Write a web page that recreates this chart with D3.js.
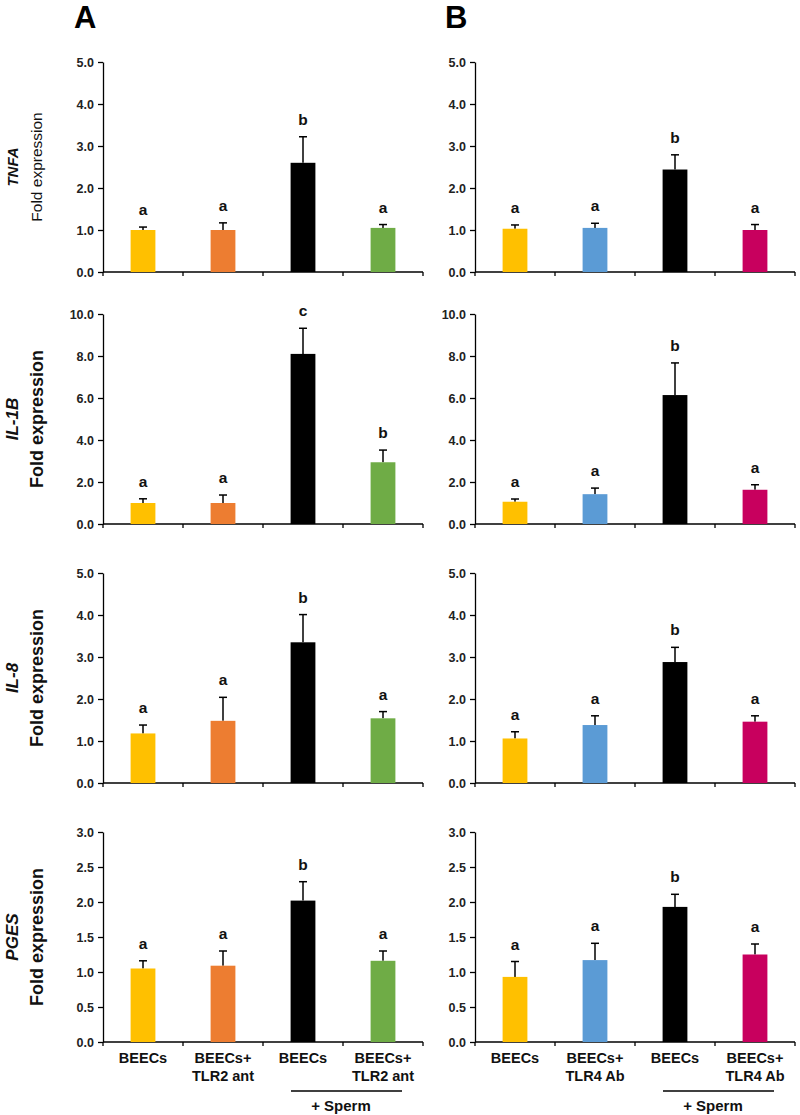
<!DOCTYPE html>
<html>
<head>
<meta charset="utf-8">
<script src="https://cdn.jsdelivr.net/npm/d3@7"></script>
<style>
  html, body { margin: 0; padding: 0; background: #fff; }
  svg { display: block; font-family: "Liberation Sans", Arial, sans-serif; }
</style>
</head>
<body>
<svg id="chart" width="800" height="1115"></svg>
<script>
// ---------- data ----------
const categoriesA = [["BEECs"], ["BEECs+", "TLR2 ant"], ["BEECs"], ["BEECs+", "TLR2 ant"]];
const categoriesB = [["BEECs"], ["BEECs+", "TLR4 Ab"], ["BEECs"], ["BEECs+", "TLR4 Ab"]];
const genes = ["TNFA", "IL-1B", "IL-8", "PGES"];
const yLabel = "Fold expression";
const groupLabel = "+ Sperm";
const panelLetters = ["A", "B"];

const colorsA = ["#FFC000", "#ED7D31", "#000000", "#6FAC46"];
const colorsB = ["#FFC000", "#5B9BD5", "#000000", "#C8005E"];

const yMax = [5, 10, 5, 3];
const yStep = [1, 2, 1, 0.5];

// means and (upper) error bars, panel A
const tnfaA = [1.00, 1.00, 2.60, 1.05];
const tnfaAErr = [0.07, 0.17, 0.62, 0.08];
const il1bA = [1.00, 1.00, 8.10, 2.94];
const il1bAErr = [0.20, 0.38, 1.22, 0.58];
const il8A = [1.18, 1.48, 3.35, 1.54];
const il8AErr = [0.20, 0.56, 0.66, 0.16];
const pgesA = [1.05, 1.09, 2.02, 1.16];
const pgesAErr = [0.11, 0.21, 0.27, 0.14];

// panel B
const tnfaB = [1.03, 1.05, 2.44, 1.00];
const tnfaBErr = [0.09, 0.11, 0.35, 0.13];
const il1bB = [1.06, 1.42, 6.14, 1.63];
const il1bBErr = [0.13, 0.29, 1.53, 0.24];
const il8B = [1.06, 1.38, 2.88, 1.46];
const il8BErr = [0.16, 0.22, 0.35, 0.14];
const pgesB = [0.93, 1.17, 1.93, 1.25];
const pgesBErr = [0.22, 0.24, 0.18, 0.15];

// significance letters
const lettersA = [["a","a","b","a"], ["a","a","c","b"], ["a","a","b","a"], ["a","a","b","a"]];
const lettersB = [["a","a","b","a"], ["a","a","b","a"], ["a","a","b","a"], ["a","a","b","a"]];

const valuesA = [tnfaA, il1bA, il8A, pgesA];
const errsA = [tnfaAErr, il1bAErr, il8AErr, pgesAErr];
const valuesB = [tnfaB, il1bB, il8B, pgesB];
const errsB = [tnfaBErr, il1bBErr, il8BErr, pgesBErr];

// ---------- layout ----------
const svg = d3.select("#chart");
const FONT = '"Liberation Sans", Arial, sans-serif';
const rowTops = [62, 314, 573, 832];
const rowH = 210;
const colLeft = [103, 475];
const plotW = 320;

const panels = [
  { left: colLeft[0], cats: categoriesA, colors: colorsA, values: valuesA, errs: errsA, letters: lettersA },
  { left: colLeft[1], cats: categoriesB, colors: colorsB, values: valuesB, errs: errsB, letters: lettersB }
];

// panel letters
svg.selectAll("text.panelLetter").data(panelLetters).enter().append("text")
  .attr("class", "panelLetter")
  .attr("x", (d, i) => [74, 445][i])
  .attr("y", 28)
  .attr("font-family", FONT).attr("font-weight", "bold").attr("font-size", 31)
  .text(d => d);

panels.forEach((p, pi) => {
  genes.forEach((gene, ri) => {
    const top = rowTops[ri];
    const g = svg.append("g").attr("transform", `translate(${p.left},${top})`);
    const x = d3.scaleBand().domain(d3.range(4)).range([0, plotW])
      .paddingInner(0.69).paddingOuter(0.345);
    const y = d3.scaleLinear().domain([0, yMax[ri]]).range([rowH, 0]);

    // y axis
    const ticks = d3.range(0, yMax[ri] + 1e-9, yStep[ri]);
    const ya = g.append("g").call(d3.axisLeft(y).tickValues(ticks).tickFormat(d3.format(".1f"))
      .tickSize(5).tickSizeOuter(0).tickPadding(4));
    ya.select(".domain").attr("stroke", "#000").attr("stroke-width", 1.3);
    ya.selectAll(".tick line").attr("stroke", "#000").attr("stroke-width", 1.3);
    ya.selectAll(".tick text").attr("font-family", FONT).attr("font-weight", "bold")
      .attr("font-size", 12.5).attr("fill", "#222");

    // x axis line with boundary ticks
    g.append("line").attr("x1", 0).attr("x2", plotW).attr("y1", rowH).attr("y2", rowH)
      .attr("stroke", "#000").attr("stroke-width", 1.3);
    const bounds = d3.range(5).map(i => x.range()[0] + i * x.step());
    g.selectAll("line.xt").data(bounds).enter().append("line").attr("class", "xt")
      .attr("x1", d => d).attr("x2", d => d).attr("y1", rowH).attr("y2", rowH + 4)
      .attr("stroke", "#000").attr("stroke-width", 1.3);

    const vals = p.values[ri], errs = p.errs[ri], lets = p.letters[ri];
    const data = vals.map((v, i) => ({ i, v, e: errs[i], l: lets[i] }));

    // error bars (drawn behind bars)
    const eb = g.selectAll("g.eb").data(data).enter().append("g").attr("class", "eb");
    eb.append("line")
      .attr("x1", d => x(d.i) + x.bandwidth() / 2).attr("x2", d => x(d.i) + x.bandwidth() / 2)
      .attr("y1", d => y(d.v)).attr("y2", d => y(d.v + d.e))
      .attr("stroke", "#000").attr("stroke-width", 1.5);
    eb.append("line")
      .attr("x1", d => x(d.i) + x.bandwidth() / 2 - 4).attr("x2", d => x(d.i) + x.bandwidth() / 2 + 4)
      .attr("y1", d => y(d.v + d.e)).attr("y2", d => y(d.v + d.e))
      .attr("stroke", "#000").attr("stroke-width", 1.5);

    // bars
    g.selectAll("rect.bar").data(data).enter().append("rect").attr("class", "bar")
      .attr("x", d => x(d.i)).attr("width", x.bandwidth())
      .attr("y", d => y(d.v)).attr("height", d => y(0) - y(d.v))
      .attr("fill", d => p.colors[d.i]);

    // letters
    g.selectAll("text.sig").data(data).enter().append("text").attr("class", "sig")
      .attr("x", d => x(d.i) + x.bandwidth() / 2)
      .attr("y", d => y(d.v + d.e) - 12)
      .attr("text-anchor", "middle")
      .attr("font-family", FONT).attr("font-weight", "bold").attr("font-size", 15.5).attr("fill", "#111")
      .text(d => d.l);

    // y labels (left column only)
    if (pi === 0) {
      const cy = top + rowH / 2;
      svg.append("text")
        .attr("transform", `translate(18,${cy}) rotate(-90)`)
        .attr("text-anchor", "middle")
        .attr("font-family", FONT).attr("font-weight", "bold").attr("font-style", "italic")
        .attr("font-size", ri === 0 ? 15 : 17).attr("fill", "#111")
        .text(gene);
      svg.append("text")
        .attr("transform", `translate(${ri === 0 ? 42 : 43},${cy}) rotate(-90)`)
        .attr("text-anchor", "middle")
        .attr("font-family", FONT).attr("font-weight", ri === 0 ? "normal" : "bold")
        .attr("font-size", ri === 0 ? 15.5 : 18).attr("fill", "#111")
        .text(yLabel);
    }

    // category labels (bottom row)
    if (ri === genes.length - 1) {
      const lab = g.selectAll("text.cat").data(p.cats).enter().append("text").attr("class", "cat")
        .attr("x", (d, i) => x(i) + x.bandwidth() / 2)
        .attr("y", rowH + 21)
        .attr("text-anchor", "middle")
        .attr("font-family", FONT).attr("font-weight", "bold").attr("font-size", 14.5).attr("fill", "#111");
      lab.each(function(d) {
        d3.select(this).selectAll("tspan").data(d).enter().append("tspan")
          .attr("x", d3.select(this).attr("x"))
          .attr("dy", (t, k) => k === 0 ? 0 : 18)
          .text(t => t);
      });
      // + Sperm grouping line
      const x3 = x(2) + x.bandwidth() / 2, x4 = x(3) + x.bandwidth() / 2;
      g.append("line").attr("x1", x3 - 12).attr("x2", x4 + 19)
        .attr("y1", rowH + 49).attr("y2", rowH + 49)
        .attr("stroke", "#000").attr("stroke-width", 1.3);
      g.append("text").attr("x", (x3 + x4) / 2 - 2).attr("y", rowH + 69)
        .attr("text-anchor", "middle")
        .attr("font-family", FONT).attr("font-weight", "bold").attr("font-size", 15).attr("fill", "#111")
        .text(groupLabel);
    }
  });
});
</script>
</body>
</html>
